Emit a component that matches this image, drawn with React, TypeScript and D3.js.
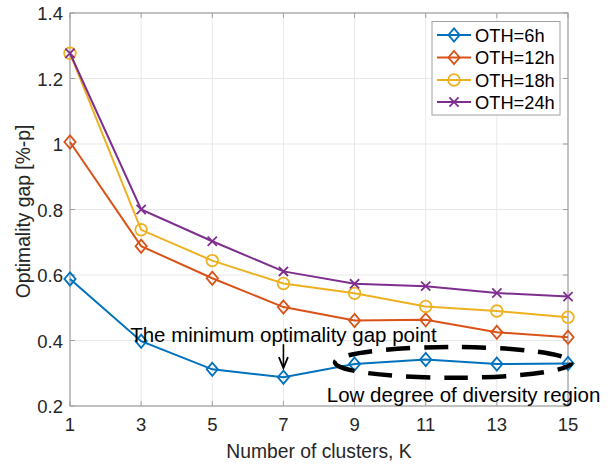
import React from "react";
import * as d3 from "d3";

const clusters = [1, 3, 5, 7, 9, 11, 13, 15];
const oth6 = [0.588, 0.398, 0.312, 0.288, 0.328, 0.342, 0.328, 0.330];
const oth12 = [1.006, 0.688, 0.590, 0.502, 0.461, 0.463, 0.425, 0.410];
const oth18 = [1.277, 0.738, 0.644, 0.574, 0.544, 0.504, 0.490, 0.471];
const oth24 = [1.277, 0.800, 0.703, 0.611, 0.573, 0.566, 0.545, 0.534];
const seriesNames = ["OTH=6h", "OTH=12h", "OTH=18h", "OTH=24h"];
const seriesColors = ["#0072BD", "#D95319", "#EDB120", "#7E2F8E"];
const seriesMarkers = ["diamond", "diamond", "circle", "x"];
const xTicks = [1, 3, 5, 7, 9, 11, 13, 15];
const yTicks = [0.2, 0.4, 0.6, 0.8, 1.0, 1.2, 1.4];

const W = 614;
const H = 465;
const left = 70;
const right = 568;
const top = 13;
const bottom = 406;
const FONT = "'Liberation Sans', Arial, Helvetica, sans-serif";

function Marker({ type, cx, cy, color }: { type: string; cx: number; cy: number; color: string }) {
  if (type === "diamond") {
    const a = 5.6, b = 6.6;
    return (
      <path
        d={`M${cx},${cy - b}L${cx + a},${cy}L${cx},${cy + b}L${cx - a},${cy}Z`}
        fill="none"
        stroke={color}
        strokeWidth={1.8}
      />
    );
  }
  if (type === "circle") {
    return <circle cx={cx} cy={cy} r={5.8} fill="none" stroke={color} strokeWidth={1.8} />;
  }
  const s = 4.6;
  return (
    <path
      d={`M${cx - s},${cy - s}L${cx + s},${cy + s}M${cx - s},${cy + s}L${cx + s},${cy - s}`}
      stroke={color}
      strokeWidth={1.8}
    />
  );
}

export default function App() {
  const x = d3.scaleLinear().domain([1, 15]).range([left, right]);
  const y = d3.scaleLinear().domain([0.2, 1.4]).range([bottom, top]);
  const allSeries = [oth6, oth12, oth18, oth24];
  const line = d3
    .line<number>()
    .x((_, i) => x(clusters[i]))
    .y((d) => y(d));

  const tickLen = 5;
  const axisColor = "#a0a0a0";
  const gridColor = "#e8e8e8";
  const textColor = "#262626";

  const minIdx = 3;
  const arrowTipY = y(oth6[minIdx]) - 9;
  const arrowTailY = arrowTipY - 24;
  const ellCx = x(11.77);
  const ellCy = y(0.333);
  const ellRx = x(11.77 + 3.32) - x(11.77);
  const ellRy = y(0.333) - y(0.333 + 0.047);

  const legX = 432, legY = 21.5, legW = 128, legH = 93.5;
  const legRowY = [35, 57.5, 80, 102];

  return (
    <svg width={W} height={H} style={{ display: "block", position: "absolute", left: 0, top: 0 }}>
      <rect x={0} y={0} width={W} height={H} fill="#fff" />
      {xTicks.map((t) => (
        <line key={"gx" + t} x1={x(t)} x2={x(t)} y1={top} y2={bottom} stroke={gridColor} strokeWidth={1} />
      ))}
      {yTicks.map((t) => (
        <line key={"gy" + t} x1={left} x2={right} y1={y(t)} y2={y(t)} stroke={gridColor} strokeWidth={1} />
      ))}
      <rect x={left} y={top} width={right - left} height={bottom - top} fill="none" stroke={axisColor} strokeWidth={1.2} />
      {xTicks.map((t) => (
        <g key={"tx" + t}>
          <line x1={x(t)} x2={x(t)} y1={bottom} y2={bottom - tickLen} stroke={axisColor} />
          <line x1={x(t)} x2={x(t)} y1={top} y2={top + tickLen} stroke={axisColor} />
          <text x={x(t)} y={430.5} textAnchor="middle" fontFamily={FONT} fontSize={18.5} fill={textColor}>
            {t}
          </text>
        </g>
      ))}
      {yTicks.map((t) => (
        <g key={"ty" + t}>
          <line x1={left} x2={left + tickLen} y1={y(t)} y2={y(t)} stroke={axisColor} />
          <line x1={right} x2={right - tickLen} y1={y(t)} y2={y(t)} stroke={axisColor} />
          <text x={left - 7} y={y(t) + 7} textAnchor="end" fontFamily={FONT} fontSize={18.5} fill={textColor}>
            {d3.format("")(+t.toFixed(1))}
          </text>
        </g>
      ))}
      <text x={(left + right) / 2} y={458} textAnchor="middle" fontFamily={FONT} fontSize={19.3} fill={textColor}>
        Number of clusters, K
      </text>
      <text
        transform={`translate(${30},${(top + bottom) / 2 + 2}) rotate(-90)`}
        textAnchor="middle"
        fontFamily={FONT}
        fontSize={19.3}
        fill={textColor}
      >
        Optimality gap [%-p]
      </text>
      {allSeries.map((s, si) => (
        <g key={"s" + si}>
          <path d={line(s) || ""} fill="none" stroke={seriesColors[si]} strokeWidth={2} />
          {s.map((v, i) => (
            <Marker key={i} type={seriesMarkers[si]} cx={x(clusters[i])} cy={y(v)} color={seriesColors[si]} />
          ))}
        </g>
      ))}
      <text x={x(7)} y={y(0.3955)} textAnchor="middle" fontFamily={FONT} fontSize={20.5} fill="#000">
        The minimum optimality gap point
      </text>
      <line x1={x(7)} x2={x(7)} y1={arrowTailY} y2={arrowTipY - 2} stroke="#000" strokeWidth={1.6} />
      <path
        d={`M${x(7) - 4.5},${arrowTipY - 11}L${x(7)},${arrowTipY}L${x(7) + 4.5},${arrowTipY - 11}`}
        fill="none"
        stroke="#000"
        strokeWidth={1.8}
      />
      <ellipse
        cx={ellCx}
        cy={ellCy}
        rx={ellRx}
        ry={ellRy}
        fill="none"
        stroke="#000"
        strokeWidth={4.5}
        strokeDasharray="24 14"
        strokeDashoffset={8}
      />
      <text x={x(8.22)} y={401.5} fontFamily={FONT} fontSize={20.5} fill="#000">
        Low degree of diversity region
      </text>
      <rect x={legX} y={legY} width={legW} height={legH} fill="#fff" stroke={axisColor} strokeWidth={1} />
      {seriesNames.map((n, i) => (
        <g key={"l" + i}>
          <line x1={437} x2={471} y1={legRowY[i]} y2={legRowY[i]} stroke={seriesColors[i]} strokeWidth={2} />
          <Marker type={seriesMarkers[i]} cx={454} cy={legRowY[i]} color={seriesColors[i]} />
          <text x={475} y={legRowY[i] + 6.5} fontFamily={FONT} fontSize={18.3} fill="#000">
            {n}
          </text>
        </g>
      ))}
    </svg>
  );
}
